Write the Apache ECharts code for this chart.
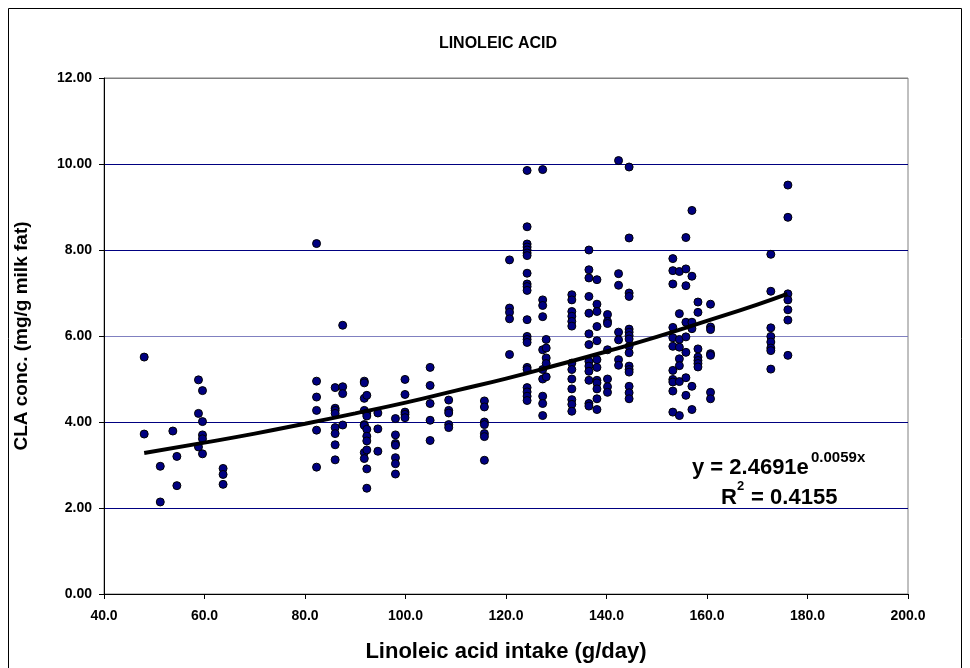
<!DOCTYPE html>
<html>
<head>
<meta charset="utf-8">
<script src="https://cdn.jsdelivr.net/npm/echarts@6/dist/echarts.min.js"></script>
<style>
html,body{margin:0;padding:0;background:#fff;}
#chart{width:970px;height:668px;}
</style>
</head>
<body>
<div id="chart"></div>
<script>
// Tick labels
const xTicks = ['40.0','60.0','80.0','100.0','120.0','140.0','160.0','180.0','200.0'];
const yTicks = ['0.00','2.00','4.00','6.00','8.00','10.00','12.00'];

// Linoleic acid intake (g/day) of each group of cows
const groupIntake = [48.0, 51.2, 53.7, 54.5, 58.8, 59.6, 63.7, 82.3, 86.0, 87.5, 91.8, 92.3, 94.5, 98.0, 99.9,
  104.9, 108.6, 115.7, 120.7, 124.2, 127.3, 128.0, 133.1, 136.5, 138.1, 140.2, 142.4, 144.5,
  153.2, 154.5, 155.8, 157.0, 158.2, 160.7, 172.7, 176.1];

// CLA concentration (mg/g milk fat) observed in each group
const groupCla = [
  [5.51, 3.72],
  [2.97, 2.14],
  [3.79],
  [3.20, 2.52],
  [4.98, 4.20, 3.42],
  [4.73, 4.01, 3.70, 3.61, 3.26],
  [2.92, 2.78, 2.55],
  [8.15, 4.95, 4.58, 4.27, 3.81, 2.95],
  [4.80, 4.32, 4.27, 4.20, 3.87, 3.73, 3.47, 3.12],
  [6.25, 4.82, 4.66, 3.93],
  [4.95, 4.91, 4.55, 4.27, 3.94, 3.92, 3.29, 3.15],
  [4.62, 4.21, 4.14, 3.83, 3.67, 3.56, 3.35, 2.91, 2.46],
  [4.21, 3.84, 3.32],
  [4.08, 3.70, 3.50, 3.46, 3.17, 3.03, 2.79],
  [4.99, 4.64, 4.23, 4.18, 4.10],
  [5.27, 4.85, 4.43, 4.04, 3.57],
  [4.51, 4.27, 4.21, 3.94, 3.87],
  [4.49, 4.35, 4.00, 3.94, 3.73, 3.66, 3.11],
  [7.77, 6.65, 6.55, 6.40, 5.57],
  [9.85, 8.54, 8.14, 8.07, 8.00, 7.93, 7.87, 7.46, 7.21, 7.15, 7.06, 6.38, 5.99, 5.92, 5.85, 5.27, 5.22, 4.80, 4.70, 4.60, 4.50],
  [9.87, 6.84, 6.71, 6.45, 5.68, 5.22, 5.00, 4.60, 4.43, 4.15],
  [5.92, 5.72, 5.49, 5.36, 5.05],
  [6.96, 6.84, 6.57, 6.46, 6.34, 6.23, 5.37, 5.22, 5.00, 4.77, 4.52, 4.41, 4.25],
  [8.00, 7.54, 7.35, 6.92, 6.53, 6.05, 5.80, 5.41, 5.30, 5.18, 4.97, 4.43, 4.37],
  [7.31, 6.74, 6.57, 6.22, 5.89, 5.45, 5.27, 4.97, 4.91, 4.77, 4.54, 4.29],
  [6.50, 6.34, 6.29, 5.68, 5.00, 4.82, 4.69],
  [10.08, 7.45, 7.18, 6.09, 5.91, 5.45, 5.32],
  [9.93, 8.28, 7.00, 6.92, 6.16, 6.09, 6.01, 5.93, 5.76, 5.61, 5.30, 5.22, 5.16, 4.83, 4.68, 4.54],
  [7.80, 7.52, 7.21, 6.20, 5.96, 5.76, 5.20, 4.99, 4.93, 4.72, 4.23],
  [7.50, 6.52, 5.92, 5.74, 5.47, 5.31, 4.94, 4.15],
  [8.29, 7.56, 7.17, 6.32, 5.98, 5.62, 5.03, 4.62],
  [8.92, 7.39, 6.32, 6.17, 4.83, 4.29],
  [6.79, 6.55, 5.70, 5.51, 5.43, 5.36, 5.28],
  [6.74, 6.21, 6.15, 5.59, 5.55, 4.69, 4.54],
  [7.90, 7.04, 6.19, 5.99, 5.86, 5.72, 5.66, 5.23],
  [9.51, 8.76, 6.98, 6.84, 6.61, 6.37, 5.55]
];

// Exponential trendline as drawn in the picture
const trendX = [48, 60, 70, 80, 90, 100, 110, 120, 130, 140, 150, 160, 170, 176];
const trendY = [3.28, 3.52, 3.73, 3.96, 4.20, 4.45, 4.73, 5.01, 5.32, 5.64, 5.98, 6.35, 6.73, 6.98];

const titleText = 'LINOLEIC ACID';
const xName = 'Linoleic acid intake (g/day)';
const yName = 'CLA conc. (mg/g milk fat)';

const scatterData = [];
groupIntake.forEach((x, i) => groupCla[i].forEach(y => scatterData.push([x, y])));
const trendData = trendX.map((x, i) => [x, trendY[i]]);

const FONT = '"Liberation Sans", Arial, sans-serif';
const chart = echarts.init(document.getElementById('chart'), null, {renderer: 'canvas'});
chart.setOption({
  animation: false,
  backgroundColor: '#ffffff',
  grid: {left: 104, right: 62, top: 78, bottom: 73, show: true, borderColor: '#808080', borderWidth: 1, backgroundColor: 'transparent'},
  xAxis: {
    type: 'value', min: 40, max: 200, interval: 20,
    axisLine: {show: true, onZero: false, lineStyle: {color: '#000', width: 1}},
    axisTick: {show: true, length: 5, lineStyle: {color: '#000'}},
    splitLine: {show: false},
    axisLabel: {
      margin: 15, color: '#000', fontFamily: FONT, fontWeight: 'bold', fontSize: 14,
      formatter: v => xTicks[Math.round((v - 40) / 20)]
    },
    name: xName, nameLocation: 'middle', nameGap: 47,
    nameTextStyle: {color: '#000', fontFamily: FONT, fontWeight: 'bold', fontSize: 22}
  },
  yAxis: {
    type: 'value', min: 0, max: 12, interval: 2,
    axisLine: {show: true, onZero: false, lineStyle: {color: '#000', width: 1}},
    axisTick: {show: true, length: 5, lineStyle: {color: '#000'}},
    splitLine: {show: true, lineStyle: {width: 1, color: ['#000080', '#000080', '#000080', '#8080c0', '#000080', '#000080', '#808080']}},
    axisLabel: {
      margin: 12, color: '#000', fontFamily: FONT, fontWeight: 'bold', fontSize: 14,
      formatter: v => yTicks[Math.round(v / 2)]
    },
    name: yName, nameLocation: 'middle', nameGap: 73,
    nameTextStyle: {color: '#000', fontFamily: FONT, fontWeight: 'bold', fontSize: 19}
  },
  series: [
    {
      type: 'scatter', data: scatterData, symbol: 'circle', symbolSize: 8,
      itemStyle: {color: '#000080', borderColor: '#000', borderWidth: 1, opacity: 1},
      z: 2
    },
    {
      type: 'line', data: trendData, smooth: true, showSymbol: false, symbol: 'none',
      lineStyle: {color: '#000', width: 4}, z: 3
    }
  ],
  graphic: [
    {type: 'rect', silent: true, shape: {x: 8.5, y: 8.5, width: 953, height: 700},
     style: {fill: null, stroke: '#000', lineWidth: 1}, z: 0},
    {type: 'text', x: 498, y: 44, style: {text: titleText, font: 'bold 16px "Liberation Sans"', fill: '#000', textAlign: 'center', textVerticalAlign: 'middle'}},
    {type: 'text', x: 692, y: 468, style: {text: 'y = 2.4691e', font: 'bold 22px "Liberation Sans"', fill: '#000', textAlign: 'left', textVerticalAlign: 'middle'}},
    {type: 'text', x: 811, y: 458, style: {text: '0.0059x', font: 'bold 15px "Liberation Sans"', fill: '#000', textAlign: 'left', textVerticalAlign: 'middle'}},
    {type: 'text', x: 721, y: 498, style: {text: 'R', font: 'bold 22px "Liberation Sans"', fill: '#000', textAlign: 'left', textVerticalAlign: 'middle'}},
    {type: 'text', x: 737, y: 486, style: {text: '2', font: 'bold 13px "Liberation Sans"', fill: '#000', textAlign: 'left', textVerticalAlign: 'middle'}},
    {type: 'text', x: 745, y: 498, style: {text: ' = 0.4155', font: 'bold 22px "Liberation Sans"', fill: '#000', textAlign: 'left', textVerticalAlign: 'middle'}}
  ]
});
</script>
</body>
</html>
